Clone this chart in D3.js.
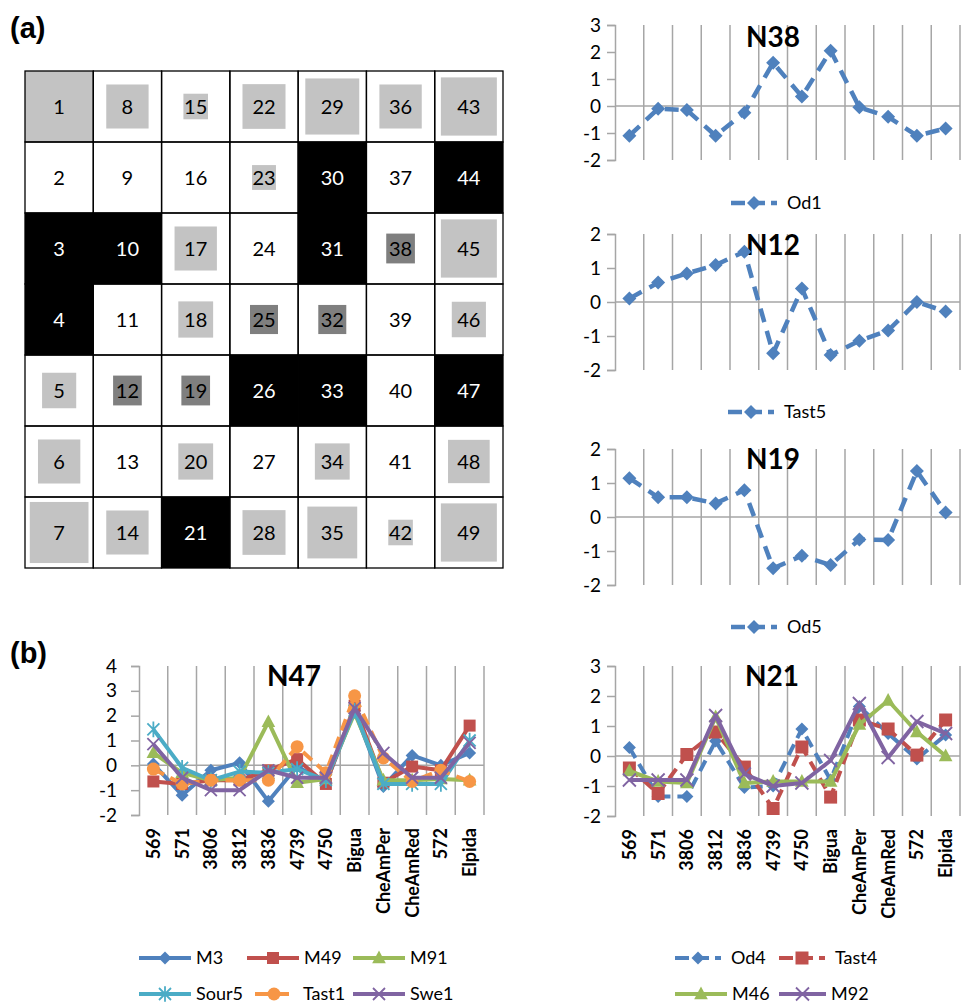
<!DOCTYPE html>
<html>
<head>
<meta charset="utf-8">
<script src="https://cdn.jsdelivr.net/npm/d3@7"></script>
<style>
  body { margin: 0; background: #fff; }
  svg text { font-family: Lato, "Noto Sans", sans-serif; }
</style>
</head>
<body>
<div id="fig"></div>
<script>
// ---------- data ----------
// 7x7 map, cells numbered column by column (1..7 first column)
// shade: L = light grey square, D = dark grey square, B = black cell, W = white cell
const cellShade = [
  'L','W','B','B','L','L','L',
  'L','W','B','W','D','W','L',
  'L','W','L','L','D','L','B',
  'L','L','W','D','B','W','L',
  'L','B','B','D','B','L','L',
  'L','W','D','W','W','W','L',
  'L','B','L','L','B','L','L'
];
// relative size of the grey square inside its cell
const cellSize = [
  1.0, 0, 1, 1, 0.5, 0.62, 0.86,
  0.62, 0, 1, 0, 0.42, 0, 0.62,
  0.36, 0, 0.62, 0.51, 0.42, 0.51, 1,
  0.63, 0.35, 0, 0.41, 1, 0, 0.63,
  0.79, 1, 1, 0.41, 1, 0.51, 0.73,
  0.62, 0, 0.42, 0, 0, 0, 0.36,
  0.82, 1, 0.82, 0.5, 1, 0.61, 0.82
];

const cultivars = ['569','571','3806','3812','3836','4739','4750','Bigua','CheAmPer','CheAmRed','572','Elpida'];

const od1   = [-1.1, -0.1, -0.15, -1.1, -0.25, 1.6, 0.35, 2.05, -0.05, -0.4, -1.1, -0.83];
const tast5 = [0.1, 0.57, 0.84, 1.09, 1.48, -1.51, 0.4, -1.56, -1.14, -0.84, 0, -0.28];
const od5   = [1.14, 0.58, 0.58, 0.4, 0.79, -1.51, -1.14, -1.41, -0.66, -0.68, 1.35, 0.13];

// N47
const m3    = [0.05, -1.2, -0.2, 0.1, -1.45, -0.05, -0.7, 2.2, -0.85, 0.4, 0, 0.5];
const m49   = [-0.65, -0.75, -0.6, -0.6, -0.2, 0.25, -0.75, 2.4, -0.7, -0.05, -0.2, 1.6];
const m91   = [0.5, -0.3, -0.6, -0.5, 1.75, -0.7, -0.55, 2.1, -0.6, -0.6, -0.55, -0.6];
const sour5 = [1.45, -0.1, -0.6, -0.25, -0.3, -0.15, -0.6, 2.2, -0.75, -0.75, -0.75, 1.0];
const tast1 = [-0.15, -0.75, -0.6, -0.6, -0.6, 0.75, -0.3, 2.8, 0.3, -0.65, -0.2, -0.65];
const swe1  = [0.85, -0.5, -1.0, -1.0, -0.2, -0.5, -0.5, 2.3, 0.5, -0.5, -0.5, 0.9];

// N21
const od4   = [0.28, -1.35, -1.35, 0.5, -1.05, -1.0, 0.9, -0.8, 1.65, 0.75, -0.1, 0.7];
const tast4 = [-0.4, -1.25, 0.05, 0.8, -0.37, -1.75, 0.3, -1.37, 1.2, 0.9, 0.03, 1.2];
const m46   = [-0.5, -0.85, -0.9, 1.3, -0.9, -0.85, -0.85, -0.85, 1.05, 1.85, 0.8, 0.0];
const m92   = [-0.8, -0.8, -0.8, 1.35, -0.6, -1.0, -0.9, -0.15, 1.75, -0.05, 1.15, 0.75];

const ticks5 = [-2, -1, 0, 1, 2, 3];
const ticks4 = [-2, -1, 0, 1, 2];
const ticks6 = [-2, -1, 0, 1, 2, 3, 4];

const BLUE = '#4f81bd', RED = '#c0504d', GREEN = '#9bbb59',
      TEAL = '#4bacc6', ORANGE = '#f79646', PURPLE = '#8064a2';

// ---------- drawing ----------
const W = 966, H = 1003;
const svg = d3.select('#fig').append('svg')
  .attr('width', W).attr('height', H)
  .attr('viewBox', `0 0 ${W} ${H}`);

svg.append('text').attr('x', 10).attr('y', 38)
  .style('font-family', '"Liberation Sans", Arial, sans-serif')
  .attr('font-size', 29).attr('font-weight', 'bold').text('(a)');
svg.append('text').attr('x', 10).attr('y', 663)
  .style('font-family', '"Liberation Sans", Arial, sans-serif')
  .attr('font-size', 29).attr('font-weight', 'bold').text('(b)');

// map grid
const gx = d3.scaleBand().domain(d3.range(7)).range([25, 503]);
const gy = d3.scaleBand().domain(d3.range(7)).range([71, 568]);
const cells = cellShade.map((s, i) => ({ n: i + 1, col: Math.floor(i / 7), row: i % 7, shade: s, size: cellSize[i] }));
const grid = svg.append('g');

grid.selectAll('.bg').data(cells).enter().append('rect')
  .attr('x', d => gx(d.col)).attr('y', d => gy(d.row))
  .attr('width', gx.bandwidth()).attr('height', gy.bandwidth())
  .attr('fill', d => d.shade === 'B' ? '#000' : '#fff');

grid.selectAll('.sq').data(cells.filter(d => d.shade === 'L' || d.shade === 'D')).enter().append('rect')
  .attr('x', d => gx(d.col) + gx.bandwidth() * (1 - d.size) / 2)
  .attr('y', d => gy(d.row) + gy.bandwidth() * (1 - d.size) / 2)
  .attr('width', d => gx.bandwidth() * d.size)
  .attr('height', d => gy.bandwidth() * d.size)
  .attr('fill', d => d.shade === 'D' ? '#7f7f7f' : '#c3c3c3');

grid.selectAll('.bd').data(cells).enter().append('rect')
  .attr('x', d => gx(d.col)).attr('y', d => gy(d.row))
  .attr('width', gx.bandwidth()).attr('height', gy.bandwidth())
  .attr('fill', 'none').attr('stroke', '#000').attr('stroke-width', 1.3);

grid.selectAll('.lbl').data(cells).enter().append('text')
  .attr('x', d => gx(d.col) + gx.bandwidth() / 2)
  .attr('y', d => gy(d.row) + gy.bandwidth() / 2)
  .attr('dy', '0.35em').attr('text-anchor', 'middle')
  .attr('font-size', 20)
  .attr('fill', d => d.shade === 'B' ? '#fff' : '#000')
  .text(d => d.n);

// marker shapes
function markerPath(type, r) {
  switch (type) {
    case 'diamond': return `M0,${-r}L${r},0L0,${r}L${-r},0Z`;
    case 'square': return `M${-r},${-r}h${2 * r}v${2 * r}h${-2 * r}Z`;
    case 'triangle': return `M0,${-r * 1.15}L${r * 1.05},${r * 0.8}L${-r * 1.05},${r * 0.8}Z`;
    case 'circle': { const p = d3.path(); p.arc(0, 0, r, 0, 2 * Math.PI); return p.toString(); }
    case 'x': return `M${-r},${-r}L${r},${r}M${-r},${r}L${r},${-r}`;
    case 'asterisk': return `M${-r},${-r}L${r},${r}M${-r},${r}L${r},${-r}M0,${-r * 1.3}L0,${r * 1.3}`;
  }
}
const strokeMarkers = ['x', 'asterisk'];

function drawMarker(g, type, color, cx, cy, r) {
  const stroked = strokeMarkers.includes(type);
  g.append('path').attr('d', markerPath(type, r))
    .attr('transform', `translate(${cx},${cy})`)
    .attr('fill', stroked ? 'none' : color)
    .attr('stroke', stroked ? color : 'none')
    .attr('stroke-width', 1.8);
}

function lineChart(o) {
  const g = svg.append('g');
  const x = d3.scaleBand().domain(cultivars).range([o.x0, o.x1]);
  const y = d3.scaleLinear().domain([o.ticks[0], o.ticks[o.ticks.length - 1]]).range([o.yb, o.yt]);

  // vertical gridlines on category boundaries
  g.selectAll('.vg').data(cultivars).enter().append('line')
    .attr('x1', d => x(d) + x.bandwidth()).attr('x2', d => x(d) + x.bandwidth())
    .attr('y1', y.range()[1]).attr('y2', y.range()[0])
    .attr('stroke', '#a6a6a6').attr('stroke-width', 1.5);

  // y axis
  const ax = g.append('g').attr('transform', `translate(${o.x0},0)`)
    .call(d3.axisLeft(y).tickValues(o.ticks).tickSize(8).tickPadding(o.pad).tickFormat(d => String(d)));
  ax.select('.domain').attr('stroke', '#a6a6a6').attr('stroke-width', 1.5);
  ax.selectAll('.tick line').attr('stroke', '#a6a6a6').attr('stroke-width', 1.5);
  ax.selectAll('.tick text').attr('font-size', 19).attr('fill', '#000')
    .style('font-family', 'Lato, sans-serif');

  // category axis at zero
  g.append('line').attr('x1', o.x0).attr('x2', o.x1).attr('y1', y(0)).attr('y2', y(0))
    .attr('stroke', '#a6a6a6').attr('stroke-width', 1.5);

  if (o.catLabels) {
    g.selectAll('.cat').data(cultivars).enter().append('text')
      .attr('transform', d => `translate(${x(d) + x.bandwidth() / 2},${o.yb + 13}) rotate(-90)`)
      .attr('dy', '0.36em').attr('text-anchor', 'end')
      .attr('font-size', 18).attr('font-weight', 'bold').text(d => d);
  }

  g.append('text').attr('x', o.tx).attr('y', o.ty).attr('text-anchor', 'middle')
    .attr('font-size', 28).attr('font-weight', 'bold').text(o.title);

  const line = d3.line().x((d, i) => x(cultivars[i]) + x.bandwidth() / 2).y(d => y(d));
  o.series.forEach(s => {
    g.append('path').datum(s.values).attr('d', line)
      .attr('fill', 'none').attr('stroke', s.color).attr('stroke-width', o.lw)
      .attr('stroke-linejoin', 'round')
      .attr('stroke-dasharray', s.dash ? o.dash : null);
    s.values.forEach((v, i) => drawMarker(g, s.marker, s.color, x(cultivars[i]) + x.bandwidth() / 2, y(v), s.r || 6));
  });

  // legend
  o.series.forEach(s => {
    const lg = g.append('g').attr('transform', `translate(${s.lx},${s.ly})`);
    lg.append('line').attr('x1', 0).attr('x2', s.lw).attr('y1', 0).attr('y2', 0)
      .attr('stroke', s.color).attr('stroke-width', o.lw)
      .attr('stroke-dasharray', s.dash ? '14,6' : null);
    drawMarker(lg, s.marker, s.color, s.lw / 2, 0, s.r || 6);
    lg.append('text').attr('x', s.lw + (s.dash ? 10 : 5)).attr('y', 0).attr('dy', '0.35em')
      .attr('font-size', 18).text(s.name);
  });
}

lineChart({ x0: 615, x1: 960, yt: 25, yb: 160, ticks: ticks5, pad: 6, lw: 4.5, dash: '14,9',
  title: 'N38', tx: 773, ty: 47,
  series: [{ name: 'Od1', values: od1, color: BLUE, dash: true, marker: 'diamond', r: 7, lx: 731, ly: 203, lw: 46 }] });

lineChart({ x0: 615, x1: 960, yt: 234, yb: 370, ticks: ticks4, pad: 6, lw: 4.5, dash: '14,9',
  title: 'N12', tx: 773, ty: 255,
  series: [{ name: 'Tast5', values: tast5, color: BLUE, dash: true, marker: 'diamond', r: 7, lx: 728, ly: 412, lw: 46 }] });

lineChart({ x0: 615, x1: 960, yt: 449, yb: 585, ticks: ticks4, pad: 6, lw: 4.5, dash: '14,9',
  title: 'N19', tx: 773, ty: 469,
  series: [{ name: 'Od5', values: od5, color: BLUE, dash: true, marker: 'diamond', r: 7, lx: 731, ly: 627, lw: 46 }] });

lineChart({ x0: 139, x1: 484, yt: 666, yb: 815, ticks: ticks6, pad: 14, lw: 4, dash: '12,7',
  title: 'N47', tx: 294, ty: 686, catLabels: true,
  series: [
    { name: 'M3', values: m3, color: BLUE, marker: 'diamond', r: 6.5, lx: 139, ly: 958, lw: 52 },
    { name: 'M49', values: m49, color: RED, marker: 'square', r: 6, lx: 247, ly: 958, lw: 52 },
    { name: 'M91', values: m91, color: GREEN, marker: 'triangle', r: 6.5, lx: 353, ly: 958, lw: 52 },
    { name: 'Sour5', values: sour5, color: TEAL, marker: 'asterisk', lx: 139, ly: 994, lw: 52 },
    { name: 'Tast1', values: tast1, color: ORANGE, dash: true, marker: 'circle', r: 6.5, lx: 255, ly: 994, lw: 38 },
    { name: 'Swe1', values: swe1, color: PURPLE, marker: 'x', lx: 353, ly: 994, lw: 52 }
  ] });

lineChart({ x0: 615, x1: 960, yt: 666, yb: 816, ticks: ticks5, pad: 6, lw: 4, dash: '12,7',
  title: 'N21', tx: 772, ty: 686, catLabels: true,
  series: [
    { name: 'Od4', values: od4, color: BLUE, dash: true, marker: 'diamond', r: 6.5, lx: 675, ly: 958, lw: 46 },
    { name: 'Tast4', values: tast4, color: RED, dash: true, marker: 'square', r: 6.5, lx: 779, ly: 958, lw: 46 },
    { name: 'M46', values: m46, color: GREEN, marker: 'triangle', r: 6.5, lx: 675, ly: 994, lw: 52 },
    { name: 'M92', values: m92, color: PURPLE, marker: 'x', r: 6.5, lx: 779, ly: 994, lw: 47 }
  ] });
</script>
</body>
</html>
